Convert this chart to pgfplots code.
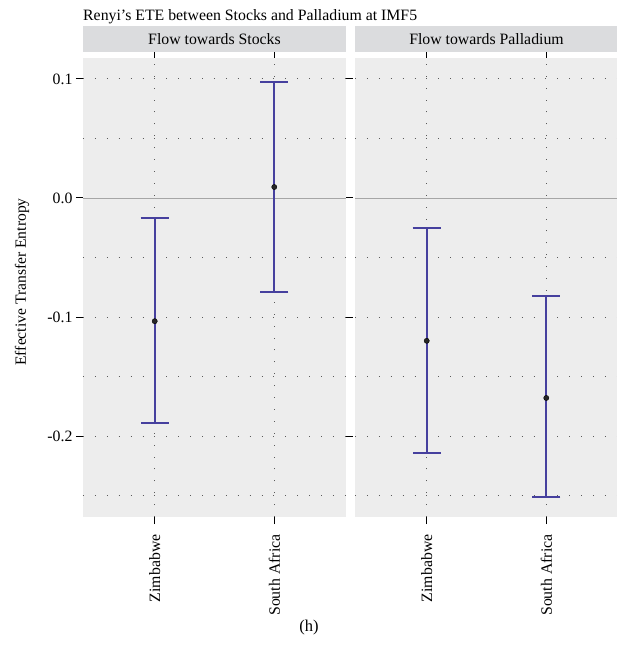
\documentclass[border=0pt]{standalone}
\usepackage{fontspec}
\setmainfont{Liberation Serif}
\usepackage{pgfplots}
\pgfplotsset{compat=1.18}
\usepackage{pgfplotstable}
\definecolor{panelgray}{RGB}{237,237,237}
\definecolor{stripgray}{RGB}{219,220,222}
\definecolor{barblue}{RGB}{70,64,158}
\definecolor{griddot}{RGB}{90,90,90}
\newcommand{\bigf}{\fontsize{15.8}{18}\selectfont}

\pgfplotstableread{
x y ep em
1 -0.1035 0.0867 0.0855
2 0.0092 0.0883 0.0882
}\stocks
\pgfplotstableread{
x y ep em
1 -0.1200 0.0948 0.0940
2 -0.1680 0.0856 0.0830
}\palla

\pgfplotsset{
  panel/.style={
    scale only axis, width=263pt, height=459pt,
    xmin=0.4, xmax=2.6, ymin=-0.268, ymax=0.1176,
    xtick={1,2}, xticklabels={Zimbabwe,South Africa},
    ytick={-0.2,-0.1,0,0.1},
    minor ytick={-0.25,-0.15,-0.05,0.05},
    grid=both,
    major grid style={dash pattern=on 0.9pt off 11pt, griddot, line width=0.9pt},
    minor grid style={dash pattern=on 0.9pt off 11pt, griddot, line width=0.9pt},
    axis line style={draw=none},
    axis background/.style={fill=panelgray},
    tick align=outside,
    major tick length=7pt, minor tick length=0pt,
    tick style={black, line width=1pt},
    xticklabel style={yshift=-7pt, rotate=90, anchor=east, font=\bigf},
    yticklabel style={font=\bigf},
    /pgf/number format/assume math mode=true,
    title style={at={(0.5,1)}, anchor=south, fill=stripgray, minimum width=263pt,
      minimum height=26pt, inner sep=0pt, font=\bigf},
    clip=false,
  },
  ebar/.style={
    only marks, mark=*, mark size=2.6pt, mark options={black, fill=black!85},
    error bars/.cd, y dir=both, y explicit,
    error bar style={barblue, line width=1.6pt},
    error mark options={rotate=90, mark size=14pt, barblue, line width=1.6pt},
  },
}

\begin{document}
\begin{tikzpicture}[x=1pt,y=1pt]
\useasboundingbox (0,0) rectangle (617,656);
\begin{axis}[panel, name=ax1, at={(83pt,139pt)}, anchor=south west,
  title={Flow towards Stocks},
  yticklabels={-0.2,-0.1,0.0,0.1}]
\addplot[gray!70, line width=0.9pt, forget plot] coordinates {(0.4,0) (2.6,0)};
\addplot[ebar] table[x=x, y=y, y error plus=ep, y error minus=em] {\stocks};
\node[anchor=base west, font=\bigf, inner sep=0pt] at (rel axis cs:0,1.0806) {Renyi's ETE between Stocks and Palladium at IMF5};
\node[rotate=90, font=\fontsize{15.6}{18}\selectfont] at (rel axis cs:-0.232,0.512) {Effective Transfer Entropy};
\node[font=\fontsize{16.5}{18}\selectfont] at (rel axis cs:0.859,-0.24) {(h)};
\end{axis}
\begin{axis}[panel, name=ax2, at={(355pt,139pt)}, anchor=south west,
  title={Flow towards Palladium},
  yticklabels={}, ytick style={draw=none}]
\addplot[gray!70, line width=0.9pt, forget plot] coordinates {(0.4,0) (2.6,0)};
\addplot[ebar] table[x=x, y=y, y error plus=ep, y error minus=em] {\palla};
\end{axis}
\end{tikzpicture}
\end{document}
